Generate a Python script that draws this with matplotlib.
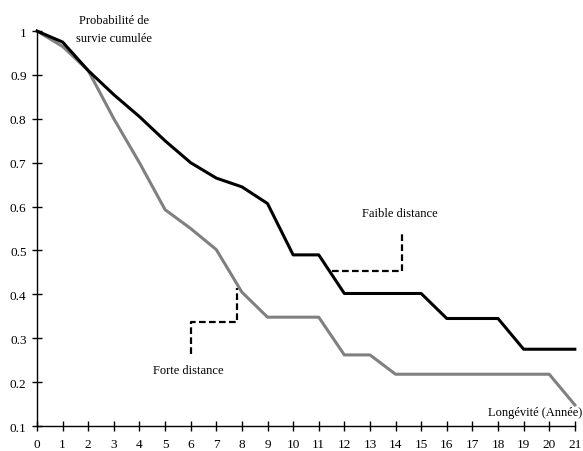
import matplotlib.pyplot as plt
import numpy as np

plt.rcParams['font.family'] = ['Liberation Serif', 'DejaVu Serif']

# Années
annees = np.arange(0, 22)

# Probabilité de survie cumulée
faible = [1.0, 0.975, 0.91, 0.855, 0.805, 0.75, 0.70, 0.665, 0.645, 0.607, 0.49,
          0.49, 0.402, 0.402, 0.402, 0.402, 0.345, 0.345, 0.345, 0.275, 0.275, 0.275]
forte = [1.0, 0.965, 0.91, 0.80, 0.70, 0.593, 0.55, 0.502, 0.405, 0.348, 0.348,
         0.348, 0.262, 0.262, 0.218, 0.218, 0.218, 0.218, 0.218, 0.218, 0.218, 0.148]

# Traits pointillés reliant les étiquettes aux courbes
faible_x = [11.5, 14.25, 14.25]
faible_y = [0.453, 0.453, 0.545]
forte_x = [6.0, 6.0, 7.82, 7.82]
forte_y = [0.265, 0.337, 0.337, 0.415]

fig = plt.figure(figsize=(5.83, 4.52), dpi=100)
ax = fig.add_axes([0.0635, 0.0553, 0.9225, 0.8737])

ax.plot(annees, forte, color='#808080', lw=2.2, clip_on=False, zorder=3)
ax.plot(annees, faible, color='black', lw=2.2, clip_on=False, zorder=4)
ax.plot(faible_x, faible_y, color='black', lw=1.6, ls=(0, (3, 1.5)))
ax.plot(forte_x, forte_y, color='black', lw=1.6, ls=(0, (3, 1.5)))

ax.set_xlim(0, 21)
ax.set_ylim(0.1, 1)
ax.set_xticks(annees)
ax.set_yticks(np.arange(0.1, 1.01, 0.1))
ax.set_yticklabels(['0.1', '0.2', '0.3', '0.4', '0.5', '0.6', '0.7', '0.8', '0.9', '1'])
ax.tick_params(direction='inout', length=7, width=1, labelsize=9.5, pad=4)
ax.tick_params(axis='x', pad=5)

for s in ['top', 'right']:
    ax.spines[s].set_visible(False)
for s in ['left', 'bottom']:
    ax.spines[s].set_linewidth(1)

ax.text(3.0, 1.005, 'Probabilité de\nsurvie cumulée', ha='center', va='center',
        fontsize=9, linespacing=1.6)
ax.text(14.15, 0.585, 'Faible distance', ha='center', va='center', fontsize=9)
ax.text(5.9, 0.228, 'Forte distance', ha='center', va='center', fontsize=9)
ax.text(21.3, 0.133, 'Longévité (Année)', ha='right', va='center', fontsize=9)

plt.savefig('out.png', dpi=100)
